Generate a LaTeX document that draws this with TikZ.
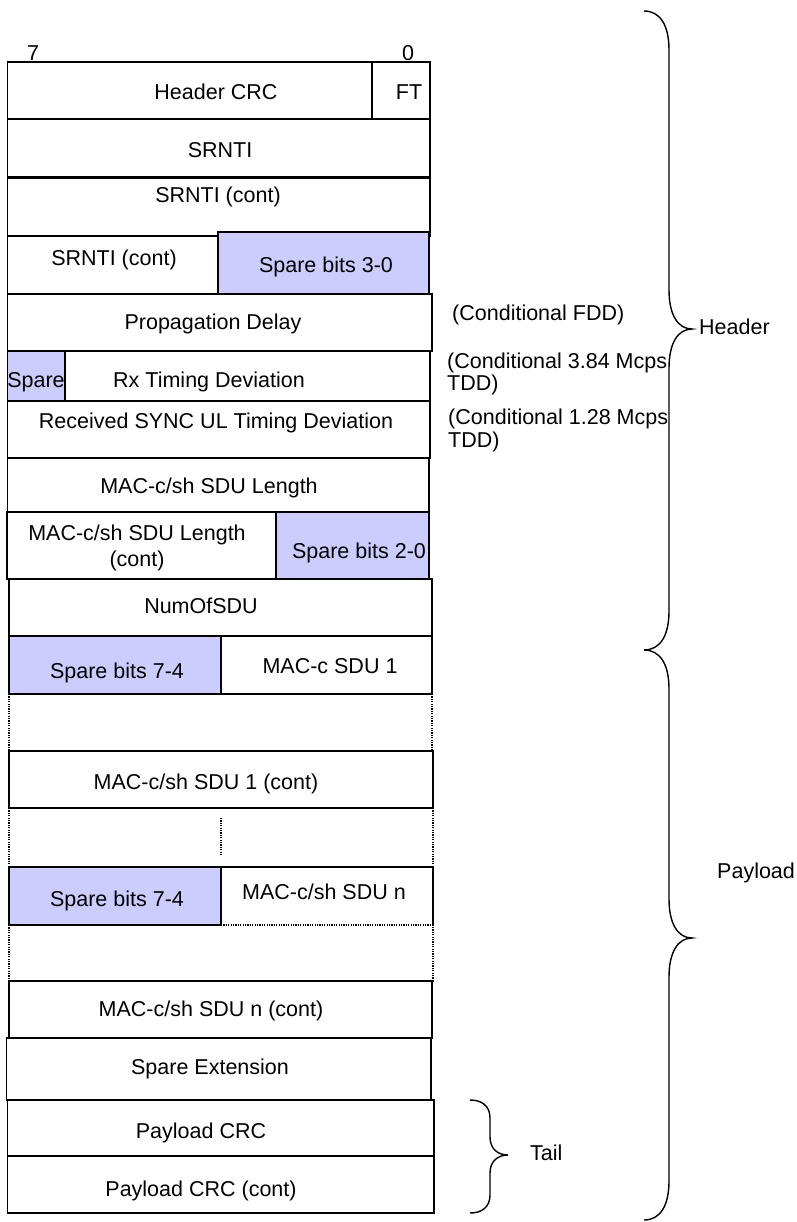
\documentclass[tikz,border=0pt]{standalone}
\usepackage{fontspec}
\setmainfont{Liberation Sans}
\definecolor{sparefill}{RGB}{204,204,255}
\begin{document}
\begin{tikzpicture}[x=1pt,y=-1pt,
  cell/.style={draw=black,line width=1.3pt},
  sparecell/.style={cell,fill=sparefill},
  dotline/.style={draw=black,line width=1.2pt,dash pattern=on 1.2pt off 1.2pt},
  lbl/.style={inner sep=0pt,font=\fontsize{21.5}{24}\selectfont,text height=15.4pt,text depth=0pt},
  bracepath/.style={draw=black,line width=1.4pt}]
\useasboundingbox (0,0) rectangle (796,1222);
% bit labels
\node[lbl] (b7) at (33,53) {7};
\node[lbl] (b0) at (408,53) {0};
% row 1
\draw[cell] (7.5,62) rectangle (430,119);
\draw[cell] (372,62) -- (372,119);
\node[lbl] (hcrc) at (216,92) {Header CRC};
\node[lbl] (ft) at (409,92) {FT};
% row 2
\draw[cell] (7.5,119) rectangle (430,177);
\node[lbl] (srnti) at (220,150) {SRNTI};
% row 3
\draw[cell] (7.5,178) rectangle (430,236);
\node[lbl] (srnti2) at (218,195) {SRNTI (cont)};
% row 4
\draw[cell] (7.5,236) rectangle (218,294);
\draw[sparecell] (218,232) rectangle (429,294);
\node[lbl] (srnti3) at (114,258) {SRNTI (cont)};
\node[lbl] (sp30) at (326,265) {Spare bits 3-0};
% row 5
\draw[cell] (7.5,294) rectangle (432,351);
\node[lbl] (prop) at (213,322) {Propagation Delay};
% row 6
\draw[cell] (65,351) rectangle (430,401);
\draw[sparecell] (7.5,351) rectangle (65,401);
\node[lbl] (spare) at (36,380) {Spare};
\node[lbl] (rxtd) at (209,380) {Rx Timing Deviation};
% row 7
\draw[cell] (7.5,401) rectangle (430,458);
\node[lbl] (sync) at (216,421) {Received SYNC UL Timing Deviation};
% row 8
\draw[cell] (7.5,458) rectangle (429,512);
\node[lbl] (len) at (209,486) {MAC-c/sh SDU Length};
% row 9
\draw[cell] (7,512) rectangle (276,579);
\draw[sparecell] (276,512) rectangle (429,579);
\node[lbl] (lenc1) at (137,533) {MAC-c/sh SDU Length};
\node[lbl] (lenc2) at (137,559) {(cont)};
\node[lbl] (sp20) at (359,551) {Spare bits 2-0};
% row 10
\draw[cell] (9,579) rectangle (432,636);
\node[lbl] (num) at (201,606) {NumOfSDU};
% row 11
\draw[sparecell] (9,636) rectangle (221,694);
\draw[cell] (221,636) rectangle (432,694);
\node[lbl] (sp74a) at (117,671) {Spare bits 7-4};
\node[lbl] (sdu1) at (330,666) {MAC-c SDU 1};
% row 12 (dotted)
\draw[dotline] (9,694) -- (9,751);
\draw[dotline] (432,694) -- (432,751);
% row 13
\draw[cell] (9,751) rectangle (433,808);
\node[lbl] (sdu1c) at (206,782) {MAC-c/sh SDU 1 (cont)};
% row 14 (dotted)
\draw[dotline] (9,808) -- (9,867);
\draw[dotline] (433,808) -- (433,867);
\draw[dotline] (221,818) -- (221,855);
% row 15
\draw[sparecell] (9,867) rectangle (221,925);
\draw[cell] (221,867) -- (433,867) -- (433,925);
\draw[dotline] (221,925) -- (433,925);
\node[lbl] (sp74b) at (117,899) {Spare bits 7-4};
\node[lbl] (sdun) at (324,892) {MAC-c/sh SDU n};
% row 16 (dotted)
\draw[dotline] (9,925) -- (9,981) -- (433,981) -- (433,925);
% row 17
\draw[cell] (9,981) rectangle (432,1038);
\node[lbl] (sdunc) at (211,1009) {MAC-c/sh SDU n (cont)};
% row 18
\draw[cell] (6.5,1038) rectangle (431,1100);
\node[lbl] (spext) at (210,1067) {Spare Extension};
% row 19
\draw[cell] (7.7,1100) rectangle (434,1156);
\node[lbl] (pcrc) at (201,1131) {Payload CRC};
% row 20
\draw[cell] (7.7,1156) rectangle (434,1213);
\node[lbl] (pcrc2) at (201,1189) {Payload CRC (cont)};
% conditional notes
\node[lbl,anchor=west] (cfdd) at (452,313) {(Conditional FDD)};
\node[lbl,anchor=west] (c384a) at (447,361) {(Conditional 3.84 Mcps};
\node[lbl,anchor=west] (c384b) at (447,383) {TDD)};
\node[lbl,anchor=west] (c128a) at (448,417) {(Conditional 1.28 Mcps};
\node[lbl,anchor=west] (c128b) at (448,440) {TDD)};
% braces
\draw[bracepath] (644,11) .. controls (660,11) and (669,25) .. (669,50) -- (669,290)
  .. controls (669,315) and (678,329) .. (692,329)
  .. controls (678,329) and (669,343) .. (669,368) -- (669,611)
  .. controls (669,636) and (660,650) .. (644,650);
\draw[bracepath] (644,650) .. controls (660,650) and (669,664) .. (669,689) -- (669,899)
  .. controls (669,924) and (678,938) .. (692,938)
  .. controls (678,938) and (669,952) .. (669,977) -- (669,1181)
  .. controls (669,1206) and (660,1220) .. (644,1220);
\draw[bracepath] (470,1100) .. controls (482,1100) and (490,1106) .. (490,1118) -- (490,1137)
  .. controls (490,1149) and (498,1155) .. (508,1155)
  .. controls (498,1155) and (490,1161) .. (490,1173) -- (490,1195)
  .. controls (490,1207) and (482,1213) .. (470,1213);
\node[lbl,anchor=west] (hdr) at (699,327) {Header};
\node[lbl,anchor=west] (pay) at (717,871) {Payload};
\node[lbl,anchor=west] (tail) at (530,1153) {Tail};
\end{tikzpicture}
\end{document}
